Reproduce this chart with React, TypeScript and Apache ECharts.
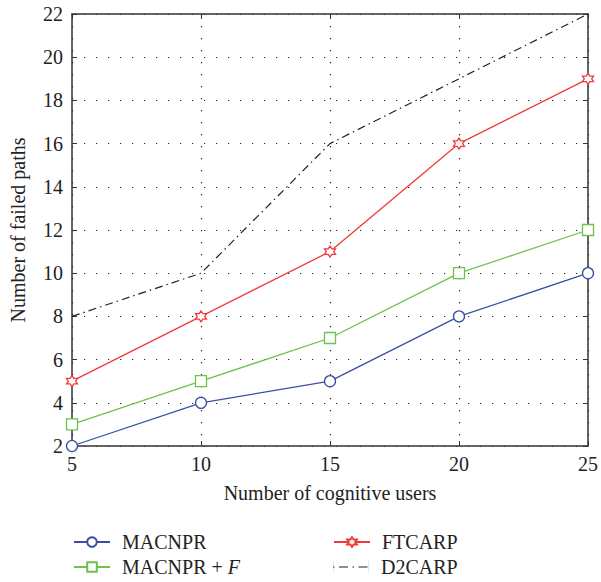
import React, { useEffect, useRef } from "react";
import * as echarts from "echarts";

const users = [5, 10, 15, 20, 25];
const macnpr = [2, 4, 5, 8, 10];
const macnprF = [3, 5, 7, 10, 12];
const ftcarp = [5, 8, 11, 16, 19];
const d2carp = [8, 10, 16, 19, 22];

const hexagram =
  "path://M10 0 L12.89 5 L18.66 5 L15.77 10 L18.66 15 L12.89 15 L10 20 L7.11 15 L1.34 15 L4.23 10 L1.34 5 L7.11 5 Z";
const dashDotIcon =
  "path://M0 5.4 L1.5 5.4 L1.5 6.6 L0 6.6 Z M6 5.4 L15 5.4 L15 6.6 L6 6.6 Z M19.5 5.4 L21 5.4 L21 6.6 L19.5 6.6 Z M25.5 5.4 L34.5 5.4 L34.5 6.6 L25.5 6.6 Z M35.9 0 L36 0 L36 12 L35.9 12 Z M0 0 L0.1 0 L0.1 12 L0 12 Z";

const FONT = "Liberation Serif";
const AX = "#333";
const TXT = "#222";
const GRID_DOT = { color: "#222", width: 1.2, type: [1.2, 10.8] as any };

export default function App() {
  const ref = useRef<HTMLDivElement>(null);
  useEffect(() => {
    const chart = echarts.init(ref.current!, null, { renderer: "svg" });
    const pts = (ys: number[]) => users.map((x, i) => [x, ys[i]]);
    const legendBase = {
      orient: "horizontal",
      itemWidth: 36,
      itemHeight: 12,
      textStyle: {
        fontFamily: FONT,
        fontSize: 20,
        color: TXT,
        padding: [0, 0, 0, 7],
        rich: {
          a: { fontFamily: FONT, fontSize: 20, color: TXT },
          b: { fontFamily: FONT, fontSize: 20, color: TXT, fontStyle: "italic" },
        },
      },
    };
    chart.setOption({
      animation: false,
      backgroundColor: "#fff",
      textStyle: { fontFamily: FONT },
      grid: { left: 70, top: 14, width: 519, height: 432 },
      xAxis: [
        {
          type: "value",
          min: 5,
          max: 25,
          interval: 5,
          name: "Number of cognitive users",
          nameLocation: "middle",
          nameGap: 37,
          nameTextStyle: { fontFamily: FONT, fontSize: 20, color: TXT },
          axisLine: { show: true, lineStyle: { color: AX, width: 1.5 } },
          axisTick: { show: true, inside: true, length: 5, lineStyle: { color: AX } },
          axisLabel: { fontFamily: FONT, fontSize: 20, color: TXT, margin: 8 },
          splitLine: { show: true, lineStyle: GRID_DOT },
        },
        {
          type: "value",
          position: "top",
          min: 5,
          max: 25,
          interval: 5,
          axisLine: { show: true, lineStyle: { color: AX, width: 1.5 } },
          axisTick: { show: true, inside: true, length: 5, lineStyle: { color: AX } },
          axisLabel: { show: false },
          splitLine: { show: false },
        },
      ],
      yAxis: [
        {
          type: "value",
          min: 2,
          max: 22,
          interval: 2,
          name: "Number of failed paths",
          nameLocation: "middle",
          nameGap: 44,
          nameTextStyle: { fontFamily: FONT, fontSize: 20, color: TXT },
          axisLine: { show: true, lineStyle: { color: AX, width: 1.5 } },
          axisTick: { show: true, inside: true, length: 5, lineStyle: { color: AX } },
          axisLabel: { fontFamily: FONT, fontSize: 20, color: TXT, margin: 9 },
          splitLine: { show: true, lineStyle: GRID_DOT },
        },
        {
          type: "value",
          position: "right",
          min: 2,
          max: 22,
          interval: 2,
          axisLine: { show: true, lineStyle: { color: AX, width: 1.5 } },
          axisTick: { show: true, inside: true, length: 5, lineStyle: { color: AX } },
          axisLabel: { show: false },
          splitLine: { show: false },
        },
      ],
      legend: [
        { ...legendBase, data: ["MACNPR"], left: 68, top: 527, formatter: "{a|MACNPR}" },
        { ...legendBase, data: ["MACNPR + F"], left: 68, top: 552, formatter: "{a|MACNPR + }{b|F}" },
        { ...legendBase, data: ["FTCARP"], left: 328, top: 527, formatter: "{a|FTCARP}" },
        {
          ...legendBase,
          data: [{ name: "D2CARP", icon: dashDotIcon, itemStyle: { color: "#222" } }],
          left: 328,
          top: 552,
          formatter: "{a|D2CARP}",
        },
      ],
      series: [
        {
          name: "MACNPR",
          type: "line",
          data: pts(macnpr),
          symbol: "circle",
          symbolSize: 11,
          lineStyle: { color: "#3a4fa3", width: 1.3 },
          itemStyle: { color: "#fff", borderColor: "#3a4fa3", borderWidth: 1.3 },
          z: 4,
        },
        {
          name: "MACNPR + F",
          type: "line",
          data: pts(macnprF),
          symbol: "rect",
          symbolSize: 11,
          lineStyle: { color: "#6cc24a", width: 1.3 },
          itemStyle: { color: "#fff", borderColor: "#6cc24a", borderWidth: 1.3 },
          z: 4,
        },
        {
          name: "FTCARP",
          type: "line",
          data: pts(ftcarp),
          symbol: hexagram,
          symbolSize: 11,
          lineStyle: { color: "#f03a3a", width: 1.3 },
          itemStyle: { color: "#fff", borderColor: "#f03a3a", borderWidth: 1.3 },
          z: 4,
        },
        {
          name: "D2CARP",
          type: "line",
          data: pts(d2carp),
          symbol: "none",
          showSymbol: false,
          lineStyle: { color: "#222", width: 1.2, type: [8, 4, 1.5, 4] as any },
          itemStyle: { color: "#222" },
          z: 4,
        },
      ],
    });
    return () => chart.dispose();
  }, []);
  return (
    <div
      ref={ref}
      style={{ position: "fixed", left: 0, top: 0, width: 601, height: 582, background: "#fff" }}
    />
  );
}
